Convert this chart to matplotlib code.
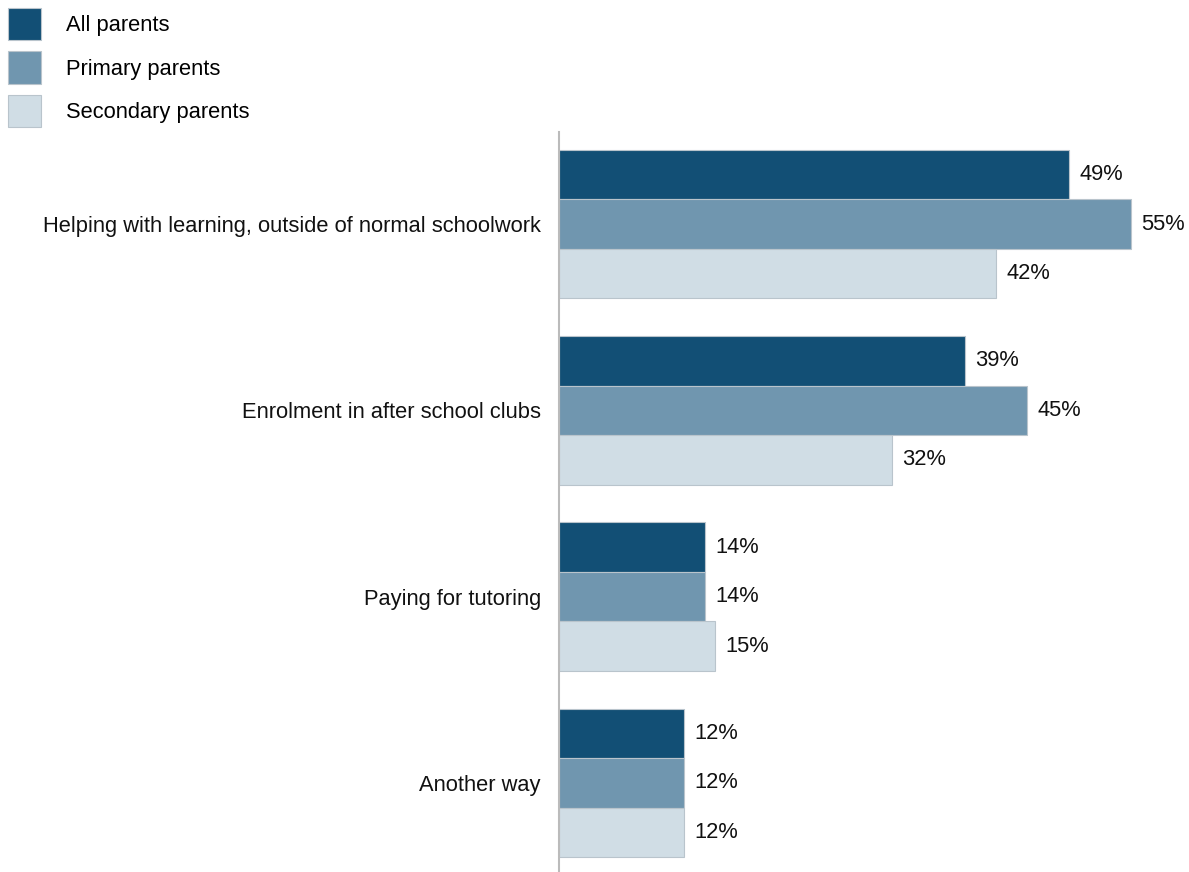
import matplotlib.pyplot as plt
import numpy as np
from matplotlib.patches import Patch

plt.rcParams['font.family'] = ['Liberation Sans', 'DejaVu Sans']

categories = ['Helping with learning, outside of normal schoolwork',
              'Enrolment in after school clubs',
              'Paying for tutoring',
              'Another way']
series = ['All parents', 'Primary parents', 'Secondary parents']
all_parents = [49, 39, 14, 12]
primary_parents = [55, 45, 14, 12]
secondary_parents = [42, 32, 15, 12]
colors = ['#124F75', '#7096AF', '#D0DDE5']

fig = plt.figure(figsize=(11.89, 8.72), dpi=100)
ax = fig.add_axes([559 / 1189, 0, 1 - 559 / 1189, 1 - 132 / 872])

y = np.arange(len(categories))
h = 49.5 / 186
for k, vals in enumerate([all_parents, primary_parents, secondary_parents]):
    pos = y + (k - 1) * h
    ax.barh(pos, vals, height=h, color=colors[k], edgecolor='#B9C4CC', linewidth=0.8)
    for p, v in zip(pos, vals):
        ax.annotate(f'{v}%', (v, p), xytext=(7.5, 0), textcoords='offset points',
                    va='center', ha='left', fontsize=15.75, color='#111111')

ax.set_xlim(0, 630 / 10.4)
ax.set_ylim(3 + 89 / 186, -92 / 186)
ax.set_yticks(y)
ax.set_yticklabels(categories, fontsize=15.75, color='#111111')
ax.tick_params(axis='y', length=0, pad=13)
ax.set_xticks([])
for s in ['top', 'right', 'bottom']:
    ax.spines[s].set_visible(False)
ax.spines['left'].set_color('#BBBBBB')
ax.spines['left'].set_linewidth(1.5)

handles = [Patch(facecolor=c, edgecolor='#B9C4CC', linewidth=0.8) for c in colors]
fig.legend(handles, series, loc='upper left', bbox_to_anchor=(8 / 1189, 1 - 8 / 872),
           frameon=False, fontsize=15.75, handlelength=1.5, handleheight=1.9,
           handletextpad=1.15, labelspacing=0.5, borderpad=0, borderaxespad=0)

fig.savefig('out.png', dpi=100)
